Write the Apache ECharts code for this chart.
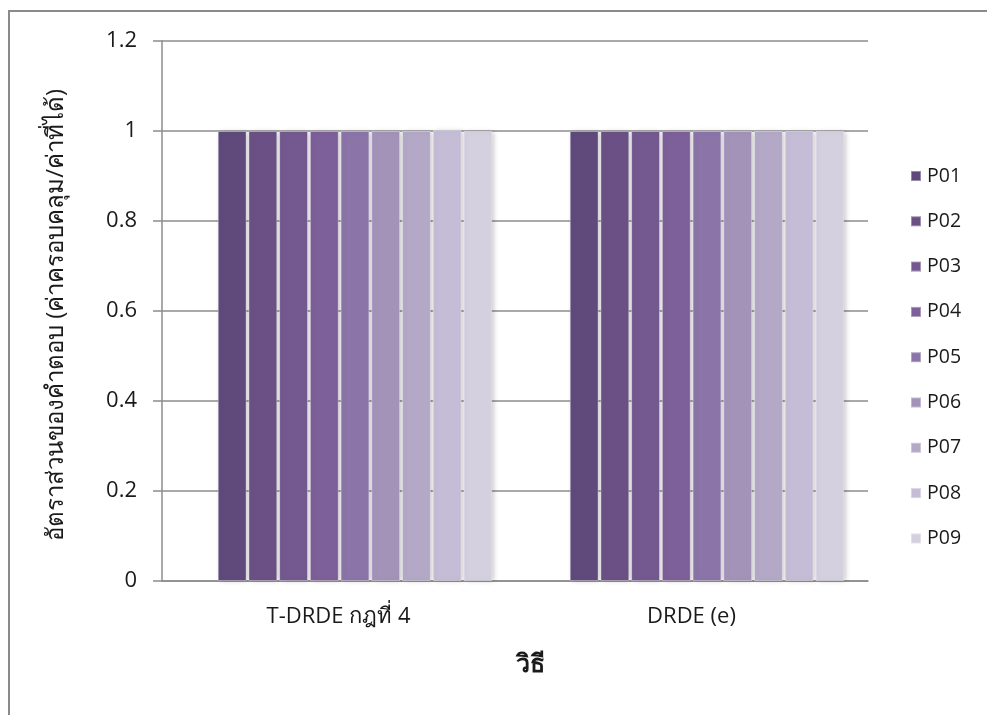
<!DOCTYPE html>
<html>
<head>
<meta charset="utf-8">
<script src="https://cdn.jsdelivr.net/npm/echarts@6/dist/echarts.min.js"></script>
<style>
  html, body { margin: 0; padding: 0; background: #fff; }
  #chart { width: 987px; height: 715px; }
</style>
</head>
<body>
<div id="chart"></div>
<script>
// Methods compared on the x axis
const categories = ['T-DRDE กฎที่ 4', 'DRDE (e)'];

// Series names (P01..P09) and their ratio values per method
const seriesNames = ['P01', 'P02', 'P03', 'P04', 'P05', 'P06', 'P07', 'P08', 'P09'];
const P01 = [1, 1];
const P02 = [1, 1];
const P03 = [1, 1];
const P04 = [1, 1];
const P05 = [1, 1];
const P06 = [1, 1];
const P07 = [1, 1];
const P08 = [1.002, 1];
const P09 = [1, 1];
const seriesValues = [P01, P02, P03, P04, P05, P06, P07, P08, P09];

// Value axis ticks
const yMin = 0, yMax = 1.2, yStep = 0.2;

const xTitle = 'วิธี';
const yTitle = 'อัตราส่วนของคำตอบ (ค่าครอบคลุม/ค่าที่ได้)';

const palette = ['#5f4a7b', '#6b5085', '#73598f', '#7d5f99', '#8b74a8',
                 '#a393b9', '#b3a9c6', '#c5bdd6', '#d5d0e0'];

const FONT = "'Open Sans', 'Noto Sans', 'DejaVu Sans', sans-serif";
const GRID_TOP = 41, GRID_BOTTOM = 715 - 581;

const chart = echarts.init(document.getElementById('chart'), null, { renderer: 'canvas' });

const series = seriesNames.map((name, i) => ({
  name,
  type: 'bar',
  xAxisIndex: 1,
  yAxisIndex: 1,
  data: seriesValues[i],
  barGap: '6.5%',
  barCategoryGap: '22%',
  itemStyle: {
    color: palette[i],
    borderColor: 'rgba(255,255,255,0.35)',
    borderWidth: 1,
    shadowColor: 'rgba(0,0,0,0.22)',
    shadowBlur: 5,
    shadowOffsetX: 2,
    shadowOffsetY: 0
  },
  emphasis: { disabled: true }
}));

chart.setOption({
  backgroundColor: '#ffffff',
  animation: false,
  textStyle: { fontFamily: FONT },
  grid: [
    // frame grid: value axis, gridlines and category labels
    { left: 162, right: 987 - 868, top: GRID_TOP, bottom: GRID_BOTTOM },
    // bar grid
    { left: 179, right: 987 - 883, top: GRID_TOP, bottom: GRID_BOTTOM }
  ],
  xAxis: [
    {
      gridIndex: 0,
      type: 'category',
      data: categories,
      axisLine: { show: true, lineStyle: { color: '#8c8c8c', width: 1.5 } },
      axisTick: { show: false },
      axisLabel: { color: '#1a1a1a', fontSize: 22, margin: 25, fontFamily: FONT }
    },
    {
      gridIndex: 1,
      type: 'category',
      data: categories,
      show: false
    }
  ],
  yAxis: [
    {
      gridIndex: 0,
      type: 'value',
      min: yMin,
      max: yMax,
      interval: yStep,
      axisLine: { show: true, lineStyle: { color: '#8c8c8c', width: 1.5 } },
      axisTick: { show: true, inside: false, length: 9, lineStyle: { color: '#8c8c8c', width: 1.5 } },
      splitLine: { show: true, lineStyle: { color: '#8c8c8c', width: 1.5 } },
      axisLabel: { color: '#1a1a1a', fontSize: 22, margin: 25, fontFamily: FONT }
    },
    {
      gridIndex: 1,
      type: 'value',
      min: yMin,
      max: yMax,
      interval: yStep,
      show: false,
      splitLine: { show: false }
    }
  ],
  legend: {
    orient: 'vertical',
    left: 905,
    top: 160,
    icon: 'rect',
    itemWidth: 10,
    itemHeight: 10,
    itemGap: 23.3,
    data: seriesNames,
    textStyle: { color: '#1a1a1a', fontSize: 19.5, lineHeight: 22, fontFamily: FONT, padding: [0, 0, 0, 1] }
  },
  graphic: [
    {
      type: 'rect',
      silent: true,
      shape: { x: 9, y: 11, width: 1100, height: 900 },
      style: { fill: 'none', stroke: '#8a8a8a', lineWidth: 2 }
    },
    {
      type: 'text',
      silent: true,
      x: 530,
      y: 665,
      style: {
        text: xTitle,
        fill: '#1a1a1a',
        font: 'bold 25px ' + FONT,
        textAlign: 'center',
        textVerticalAlign: 'middle'
      }
    },
    {
      type: 'text',
      silent: true,
      x: 56,
      y: 315,
      rotation: Math.PI / 2,
      style: {
        text: yTitle,
        fill: '#1a1a1a',
        font: '24px ' + FONT,
        textAlign: 'center',
        textVerticalAlign: 'middle'
      }
    }
  ],
  series
});
</script>
</body>
</html>
